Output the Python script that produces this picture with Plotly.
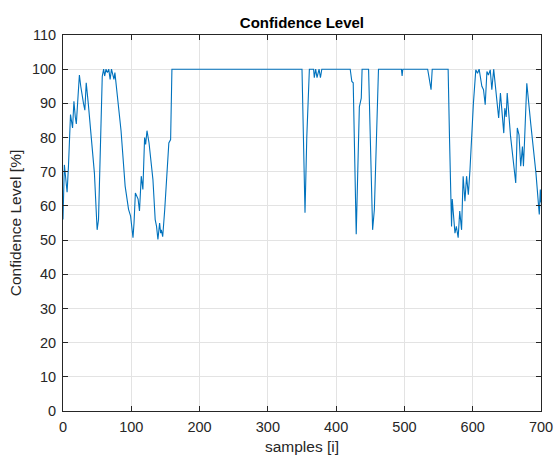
import plotly.graph_objects as go

samples = [0, 2, 4, 6, 8, 11, 14, 16, 18, 19.5, 22, 24, 26, 28, 30, 32, 34, 37, 41, 46, 49, 50, 52,
           55, 57.5, 59.5, 61, 63, 65, 67, 69, 71, 73, 74.6, 76, 78, 85, 91, 96, 99, 102.5, 104, 106,
           110, 112, 114.6, 117, 119.5, 121, 123, 126, 131.7, 135, 137, 139, 141.5, 143, 144, 146,
           149, 151, 155, 157.6, 159.5, 350, 352, 354.4, 357, 360.8, 367, 368, 370, 372, 375, 377,
           379, 420.6, 423, 425, 429.4, 434, 436.8, 438, 447.5, 450, 453.4, 456, 462, 495.6, 496.6,
           497.6, 534, 535.8, 539, 540.7, 564, 566, 569, 570, 572, 574, 576, 578.7, 581, 583.7, 586,
           588.6, 591, 593.6, 596, 598.5, 601, 604.5, 607, 609.4, 613.4, 615.8, 618.3, 620.8, 623,
           625.7, 628, 630.7, 635.6, 638, 640.6, 643, 645.5, 647, 649, 650.5, 655.4, 663, 665.3,
           667.8, 670.3, 672.8, 674.3, 676, 679.2, 685, 692.6, 697.5, 699, 700]
confidence = [56, 72, 68, 64, 71.6, 86.7, 82.8, 90.6, 86, 84, 92, 98.3, 95, 92, 90, 88, 96, 90, 80,
              69.6, 57, 53, 56, 80, 97.9, 100, 98, 100, 99, 100, 97, 100, 98, 97, 99, 95, 82, 65.8,
              59, 57, 50.7, 55, 63.8, 62, 58.5, 68.7, 64.8, 80, 78, 82, 78.4, 67.7, 56, 54, 50.2,
              55, 52, 53, 51, 59, 65.8, 78.4, 79.4, 100, 100, 80, 58, 80, 100, 100, 97.5, 100, 97.5,
              100, 97.5, 100, 100, 96.4, 96, 51.7, 89, 91.5, 100, 100, 80, 53, 59, 100, 100, 98, 100,
              100, 97.9, 94, 100, 100, 80, 54, 62, 57, 52, 54, 50.7, 58.5, 53, 68.7, 61.4, 68.7,
              63.3, 70.6, 82.3, 90, 99.8, 98.8, 100, 95, 94, 89.6, 99.3, 98.3, 99.8, 94, 100, 90,
              85.7, 93, 86, 81.3, 88.6, 86, 93, 80.4, 66.7, 82.8, 80.8, 71.6, 77.4, 71.6, 79.4,
              95.9, 84, 69.6, 57.5, 64.8, 61]

x_ticks = [0, 100, 200, 300, 400, 500, 600, 700]
y_ticks = [0, 10, 20, 30, 40, 50, 60, 70, 80, 90, 100, 110]

FONT = "Liberation Sans, Arial"

fig = go.Figure()
fig.add_trace(go.Scatter(x=samples, y=confidence, mode="lines",
                         line=dict(color="#0072BD", width=1.1), showlegend=False))

axis_common = dict(showgrid=True, gridcolor="#e3e3e3", gridwidth=1, zeroline=False,
                   showline=True, linecolor="#262626", linewidth=1, mirror="ticks",
                   ticks="inside", ticklen=5, tickcolor="#262626", automargin=False,
                   tickfont=dict(family=FONT, size=14.5, color="#262626"))

fig.update_layout(
    width=554, height=458,
    margin=dict(l=63, r=13, t=35, b=47),
    paper_bgcolor="white", plot_bgcolor="white",
    title=dict(text="<b>Confidence Level</b>", x=0.545, xanchor="center", y=0.95, yanchor="middle",
               font=dict(family=FONT, size=15, color="#000000")),
    xaxis=dict(range=[0, 700], tickvals=x_ticks, ticklabelstandoff=3,
               title=dict(text="samples [i]", standoff=6,
                          font=dict(family=FONT, size=15.5, color="#262626")),
               **axis_common),
    yaxis=dict(range=[0, 110], tickvals=y_ticks, ticklabelstandoff=3,
               title=dict(text="Confidence Level [%]", standoff=6,
                          font=dict(family=FONT, size=15.5, color="#262626")),
               **axis_common),
)

fig.write_html("out.html")
